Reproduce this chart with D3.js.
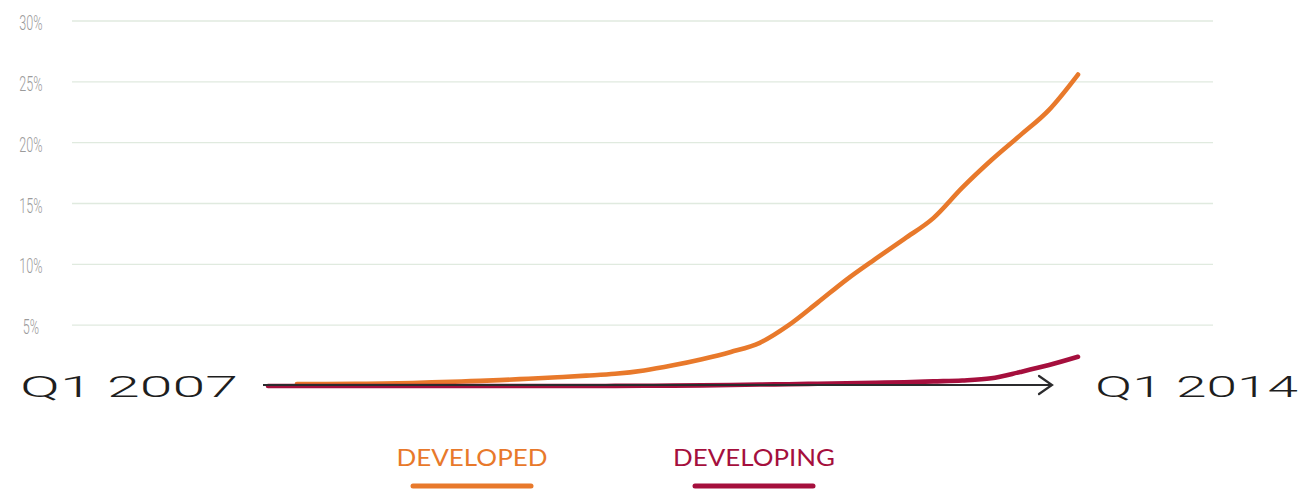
<!DOCTYPE html>
<html>
<head>
<meta charset="utf-8">
<script src="https://cdn.jsdelivr.net/npm/d3@7/dist/d3.min.js"></script>
<style>
  html, body { margin: 0; padding: 0; background: #fff; }
  svg { display: block; }
</style>
</head>
<body>
<svg id="chart" width="1304" height="489"></svg>
<script>
// Quarterly share (%) from Q1 2007 to Q1 2014
const quarters = [
  "Q1 2007", "Q2 2007", "Q3 2007", "Q4 2007",
  "Q1 2008", "Q2 2008", "Q3 2008", "Q4 2008",
  "Q1 2009", "Q2 2009", "Q3 2009", "Q4 2009",
  "Q1 2010", "Q2 2010", "Q3 2010", "Q4 2010",
  "Q1 2011", "Q2 2011", "Q3 2011", "Q4 2011",
  "Q1 2012", "Q2 2012", "Q3 2012", "Q4 2012",
  "Q1 2013", "Q2 2013", "Q3 2013", "Q4 2013",
  "Q1 2014"
];
const developed = [
  null, 0.17, 0.17, 0.18, 0.2, 0.25, 0.32, 0.4,
  0.48, 0.6, 0.72, 0.85, 1.0, 1.28, 1.7, 2.2,
  2.8, 3.55, 5.0, 6.85, 8.75, 10.45, 12.1, 13.8,
  16.3, 18.55, 20.6, 22.7, 25.6
];
const developing = [
  0, 0, 0, 0, 0, 0, 0, 0,
  0, 0, 0, 0, 0.01, 0.02, 0.03, 0.05,
  0.08, 0.12, 0.15, 0.19, 0.23, 0.27, 0.31, 0.38,
  0.45, 0.63, 1.15, 1.72, 2.4
];
const yTicks = [5, 10, 15, 20, 25, 30];
const seriesNames = ["DEVELOPED", "DEVELOPING"];
const seriesColors = ["#e8792b", "#a50f3d"];

const svg = d3.select("#chart");

const x = d3.scalePoint().domain(quarters).range([268, 1078]);
const y = d3.scaleLinear().domain([0, 30]).range([386, 21]);

// Horizontal gridlines
svg.append("g")
  .selectAll("line")
  .data(yTicks)
  .join("line")
  .attr("x1", 72).attr("x2", 1213)
  .attr("y1", d => y(d)).attr("y2", d => y(d))
  .attr("stroke", "#e0eadf")
  .attr("stroke-width", 1.3);

// Condensed percentage labels
svg.append("g")
  .selectAll("text")
  .data(yTicks)
  .join("text")
  .attr("transform", d => `translate(31,${y(d) + 9}) scale(0.6,1)`)
  .attr("text-anchor", "middle")
  .attr("font-family", "Roboto, 'DejaVu Sans', sans-serif")
  .attr("font-weight", 300)
  .attr("font-size", 21)
  .attr("fill", "#9b9b9b")
  .text(d => d + "%");

// Series lines
const line = d3.line()
  .defined(d => d.v !== null)
  .x(d => x(d.q))
  .y(d => y(d.v))
  .curve(d3.curveMonotoneX);

const series = [developed, developing];
series.forEach((vals, i) => {
  svg.append("path")
    .datum(vals.map((v, j) => ({ q: quarters[j], v })))
    .attr("fill", "none")
    .attr("stroke", seriesColors[i])
    .attr("stroke-width", 4.6)
    .attr("stroke-linecap", "round")
    .attr("stroke-linejoin", "round")
    .attr("d", line);
});

// Time arrow along the baseline
const ay = y(0) - 1;
const ax0 = x(quarters[0]) - 5;
const ax1 = x(quarters[quarters.length - 1]) - 26;
const arrow = svg.append("g")
  .attr("fill", "none")
  .attr("stroke", "#2b2b2d")
  .attr("stroke-width", 2.2);
arrow.append("line")
  .attr("x1", ax0).attr("x2", ax1)
  .attr("y1", ay).attr("y2", ay);
arrow.append("path")
  .attr("stroke-linecap", "round")
  .attr("stroke-linejoin", "miter")
  .attr("d", `M${ax1 - 13},${ay - 9} L${ax1},${ay} L${ax1 - 13},${ay + 9}`);

// Endpoint labels
const endStyle = sel => sel
  .attr("font-family", "Roboto, 'DejaVu Sans', sans-serif")
  .attr("font-weight", 300)
  .attr("font-size", 30)
  .attr("fill", "#1e1e1e")
  .attr("lengthAdjust", "spacingAndGlyphs");

svg.append("text")
  .attr("x", 20).attr("y", 397)
  .attr("textLength", 218)
  .call(endStyle)
  .text(quarters[0]);

svg.append("text")
  .attr("x", 1095).attr("y", 397)
  .attr("textLength", 203)
  .call(endStyle)
  .text(quarters[quarters.length - 1]);

// Legend
const legendCenters = [472, 754];
const legendWidths = [151, 162];
const legend = svg.append("g");
seriesNames.forEach((name, i) => {
  legend.append("text")
    .attr("x", legendCenters[i] - legendWidths[i] / 2)
    .attr("y", 466)
    .attr("textLength", legendWidths[i])
    .attr("lengthAdjust", "spacingAndGlyphs")
    .attr("font-family", "Lato, 'Open Sans', sans-serif")
    .attr("font-weight", 400)
    .attr("font-size", 23)
    .attr("fill", seriesColors[i])
    .text(name);
  legend.append("line")
    .attr("x1", legendCenters[i] - 59).attr("x2", legendCenters[i] + 59)
    .attr("y1", 486).attr("y2", 486)
    .attr("stroke", seriesColors[i])
    .attr("stroke-width", 5)
    .attr("stroke-linecap", "round");
});
</script>
</body>
</html>
